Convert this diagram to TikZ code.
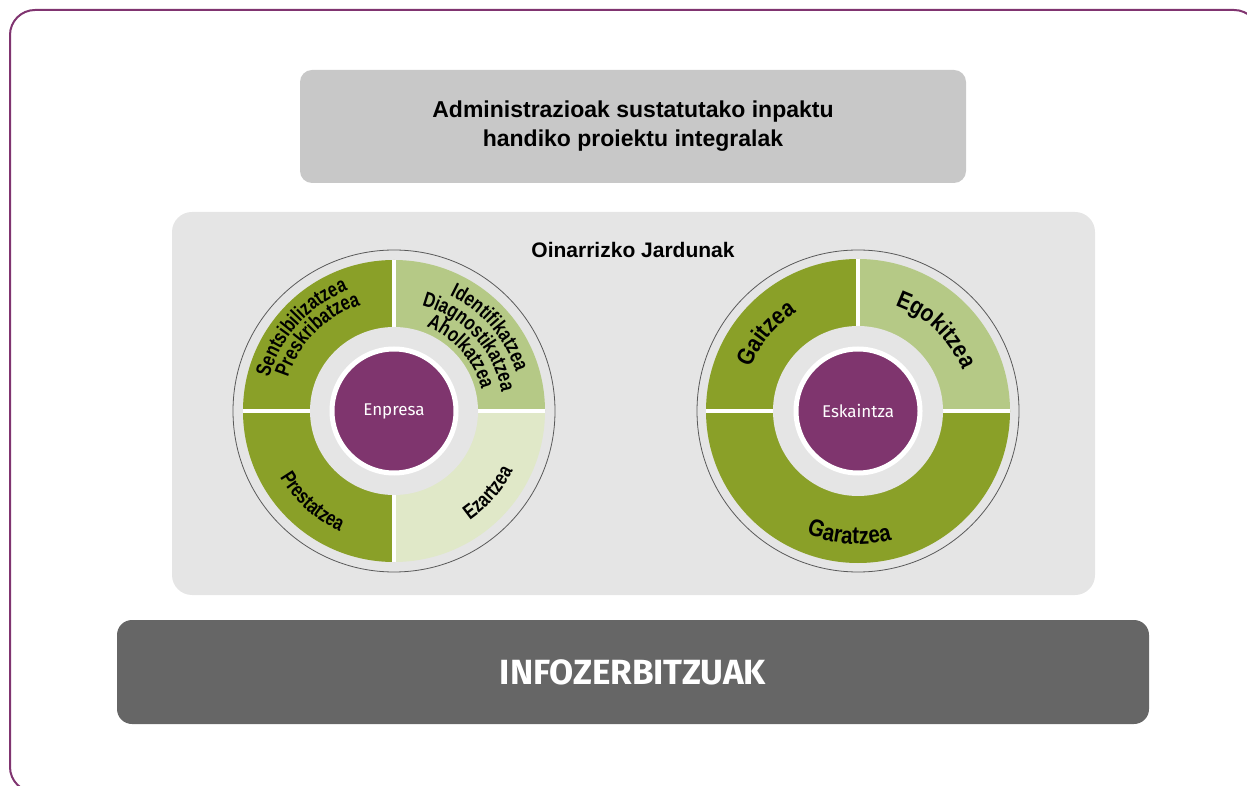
\documentclass[tikz,border=0pt]{standalone}
\usepackage{fontspec}
\setmainfont{Liberation Sans}
\newfontfamily\condfont{Liberation Sans}[FakeStretch=0.78]
\newfontfamily\widecondfont{Liberation Sans}[FakeStretch=0.86]
\newfontfamily\whitefont{Fira Sans}
\usepackage{tikz}
\usetikzlibrary{positioning, decorations.text}
\definecolor{framepurple}{RGB}{128,52,112}
\definecolor{corepurple}{RGB}{127,53,110}
\definecolor{olive}{RGB}{138,160,40}
\definecolor{leaf}{RGB}{181,201,134}
\definecolor{pale}{RGB}{224,232,200}
\definecolor{panelgray}{RGB}{229,229,229}
\definecolor{topgray}{RGB}{200,200,200}
\definecolor{basegray}{RGB}{102,102,102}
\newcommand\enpfont{\condfont\bfseries\fontsize{21}{21}\selectfont}
\newcommand\eskfont{\widecondfont\bfseries\fontsize{24}{24}\selectfont}
\newcommand\ringlabel[6]{\path[decorate, decoration={text along path, text align=center,
	text={|#5|#6}}]
	(#1) ++(#3:#2) arc[start angle=#3, end angle=#4, radius=#2];}
\tikzset{
	bar/.style={rounded corners=#1, inner sep=0pt, align=center},
	core/.style={circle, fill=corepurple, draw=white, line width=5pt, minimum size=124pt,
		text=white, font=\whitefont\fontsize{17}{17}\selectfont},
	gap/.style={white, line width=4pt},
	rim/.style={draw=black!65, line width=0.8pt}
}

\begin{document}
\begin{tikzpicture}[x=1pt, y=1pt]
	\useasboundingbox (0,0) rectangle (1247,785);
	\clip (0,0) rectangle (1247,785);
	\draw[framepurple, line width=2pt, rounded corners=25pt] (10,-7) rectangle (1259,775);
	\node[bar=12pt, fill=topgray, minimum width=666pt, minimum height=113pt,
		font=\bfseries\fontsize{23}{29}\selectfont] (headline) at (633,658.5)
		{Administrazioak sustatutako inpaktu\\handiko proiektu integralak};
	\node[bar=20pt, fill=panelgray, minimum width=923pt, minimum height=383pt] (panel) at (633.5,381.5) {};
	\node[font=\bfseries\fontsize{21}{25}\selectfont] (jardunak) at (633,535) {Oinarrizko Jardunak};
	\node[bar=15pt, fill=basegray, minimum width=1032pt, minimum height=104pt, text=white,
		font=\whitefont\bfseries\fontsize{35}{35}\selectfont] (infozerb) at (633,113) {INFOZERBITZUAK};

	\coordinate (enp) at (394,374);
	\coordinate (esk) at (858,374);

	\draw[rim] (enp) circle[radius=161];
	\fill[leaf] (enp) -- ++(0:151) arc[start angle=0, end angle=90, radius=151] -- cycle;
	\fill[olive] (enp) -- ++(90:151) arc[start angle=90, end angle=270, radius=151] -- cycle;
	\fill[pale] (enp) -- ++(270:151) arc[start angle=270, end angle=360, radius=151] -- cycle;
	\draw[gap] ([xshift=-151pt]enp) -- ([xshift=151pt]enp);
	\draw[gap] ([yshift=-151pt]enp) -- ([yshift=151pt]enp);
	\fill[panelgray] (enp) circle[radius=84];
	\node[core] (enpresa) at (enp) {Enpresa};

	\draw[rim] (esk) circle[radius=161];
	\fill[leaf] (esk) -- ++(0:152) arc[start angle=0, end angle=90, radius=152] -- cycle;
	\fill[olive] (esk) -- ++(90:152) arc[start angle=90, end angle=360, radius=152] -- cycle;
	\draw[gap] ([xshift=-152pt]esk) -- ([xshift=152pt]esk);
	\draw[gap] (esk) -- ([yshift=152pt]esk);
	\fill[panelgray] (esk) circle[radius=85];
	\node[core] (eskaintza) at (esk) {Eskaintza};

	\ringlabel{enp}{129}{183}{93}{\enpfont}{Sentsibilizatzea}
	\ringlabel{enp}{111}{180}{90}{\enpfont}{Preskribatzea}
	\ringlabel{enp}{128}{86}{-4}{\enpfont}{Identifikatzea}
	\ringlabel{enp}{109}{87.5}{-2.5}{\enpfont}{Diagnostikatzea}
	\ringlabel{enp}{90}{86.5}{-3.5}{\enpfont}{Aholkatzea}
	\ringlabel{enp}{132}{183}{273}{\enpfont}{Prestatzea}
	\ringlabel{enp}{133}{274}{364}{\enpfont}{Ezartzea}
	\ringlabel{esk}{116}{185}{95}{\eskfont}{Gaitzea}
	\ringlabel{esk}{112}{91}{1}{\eskfont}{Egokitzea}
	\ringlabel{esk}{133}{221}{311}{\eskfont}{Garatzea}
\end{tikzpicture}
\end{document}
